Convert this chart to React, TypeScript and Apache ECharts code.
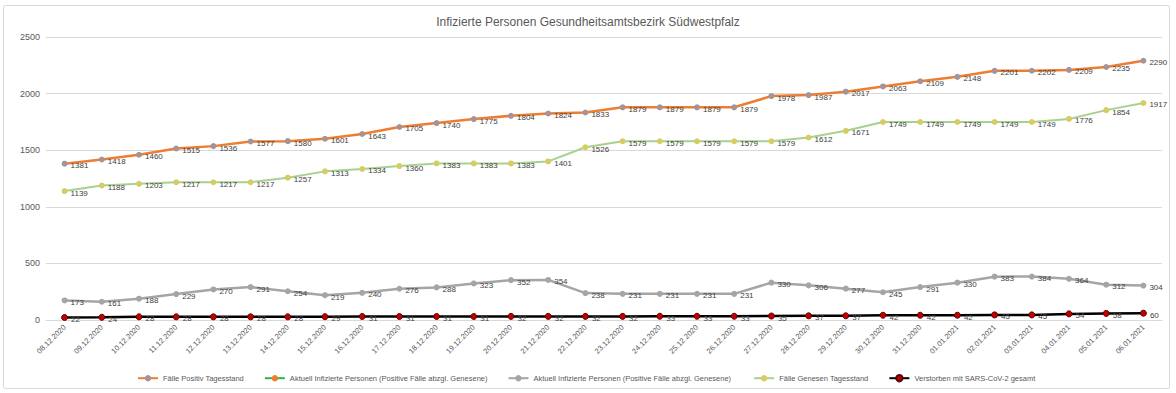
import React, { useEffect, useRef } from "react";
import * as echarts from "echarts";

const dates = [
  "08.12.2020", "09.12.2020", "10.12.2020", "11.12.2020", "12.12.2020", "13.12.2020",
  "14.12.2020", "15.12.2020", "16.12.2020", "17.12.2020", "18.12.2020", "19.12.2020",
  "20.12.2020", "21.12.2020", "22.12.2020", "23.12.2020", "24.12.2020", "25.12.2020",
  "26.12.2020", "27.12.2020", "28.12.2020", "29.12.2020", "30.12.2020", "31.12.2020",
  "01.01.2021", "02.01.2021", "03.01.2021", "04.01.2021", "05.01.2021", "06.01.2021",
];

const positiv = [
  1381, 1418, 1460, 1515, 1536, 1577, 1580, 1601, 1643, 1705, 1740, 1775, 1804, 1824, 1833,
  1879, 1879, 1879, 1879, 1978, 1987, 2017, 2063, 2109, 2148, 2201, 2202, 2209, 2235, 2290,
];

const aktuellGreen: (number | null)[] = [];

const aktuell = [
  173, 161, 188, 229, 270, 291, 254, 219, 240, 276, 288, 323, 352, 354, 238,
  231, 231, 231, 231, 330, 306, 277, 245, 291, 330, 383, 384, 364, 312, 304,
];

const genesen = [
  1139, 1188, 1203, 1217, 1217, 1217, 1257, 1313, 1334, 1360, 1383, 1383, 1383, 1401, 1526,
  1579, 1579, 1579, 1579, 1579, 1612, 1671, 1749, 1749, 1749, 1749, 1749, 1776, 1854, 1917,
];

const verstorben = [
  22, 24, 28, 28, 28, 28, 28, 29, 31, 31, 31, 31, 32, 32, 32,
  32, 33, 33, 33, 35, 37, 37, 42, 42, 42, 45, 45, 54, 58, 60,
];

const FONT = "'Liberation Sans', 'Noto Sans', sans-serif";

export default function App() {
  const ref = useRef<HTMLDivElement>(null);
  useEffect(() => {
    document.body.style.margin = "0";
    const chart = echarts.init(ref.current!, null, { renderer: "svg" });
    const label = {
      show: true,
      position: "right" as const,
      distance: 3,
      offset: [0, 2],
      fontSize: 8,
      color: "#404040",
      fontFamily: FONT,
    };
    const mk = (name: string, data: any[], lineColor: string, markerColor: string, width: number, border?: string) => ({
      name,
      type: "line",
      data,
      symbol: "circle",
      symbolSize: 6,
      lineStyle: { color: lineColor, width },
      itemStyle: { color: markerColor, borderColor: border || markerColor, borderWidth: border ? 1 : 0 },
      label,
    });
    chart.setOption({
      animation: false,
      backgroundColor: "#ffffff",
      textStyle: { fontFamily: FONT },
      title: {
        text: "Infizierte Personen Gesundheitsamtsbezirk Südwestpfalz",
        left: "center",
        top: 11,
        textStyle: { fontSize: 12, fontWeight: "normal", color: "#595959", fontFamily: FONT },
      },
      graphic: [
        {
          type: "rect",
          shape: { x: 3.5, y: 5.5, width: 1166, height: 383, r: 2 },
          style: { fill: "none", stroke: "#d9d9d9", lineWidth: 1 },
          silent: true,
        },
      ],
      legend: {
        left: 132,
        top: 369,
        itemGap: 20,
        itemWidth: 20,
        itemHeight: 8,
        textStyle: { fontSize: 7.5, color: "#595959", fontFamily: FONT },
        data: [
          "Fälle Positiv Tagesstand",
          "Aktuell Infizierte Personen (Positive Fälle abzgl. Genesene)",
          "Aktuell Infizierte Personen (Positive Fälle abzgl. Genesene) ",
          "Fälle Genesen Tagesstand",
          "Verstorben mit SARS-CoV-2 gesamt",
        ],
      },
      grid: { left: 46, right: 14, top: 37, bottom: 73, containLabel: false },
      xAxis: {
        type: "category",
        data: dates,
        boundaryGap: true,
        axisTick: { show: false },
        axisLine: { lineStyle: { color: "#d9d9d9" } },
        axisLabel: { rotate: 45, fontSize: 7.5, color: "#595959", margin: 6, interval: 0, fontFamily: FONT },
      },
      yAxis: {
        type: "value",
        min: 0,
        max: 2500,
        interval: 500,
        axisLabel: { fontSize: 9, color: "#595959", margin: 6, fontFamily: FONT, formatter: (v: number) => String(v) },
        splitLine: { lineStyle: { color: "#d9d9d9" } },
        axisLine: { show: false },
        axisTick: { show: false },
      },
      series: [
        mk("Fälle Positiv Tagesstand", positiv, "#ED7D31", "#A5939A", 2.5),
        mk("Aktuell Infizierte Personen (Positive Fälle abzgl. Genesene)", aktuellGreen, "#2EB34A", "#ED7D31", 2.5),
        mk("Aktuell Infizierte Personen (Positive Fälle abzgl. Genesene) ", aktuell, "#A5A5A5", "#A5A5A5", 2.5),
        mk("Fälle Genesen Tagesstand", genesen, "#A9D18E", "#D6CC63", 2),
        mk("Verstorben mit SARS-CoV-2 gesamt", verstorben, "#000000", "#C00000", 2.5, "#5a0000"),
      ],
    });
    return () => chart.dispose();
  }, []);
  return <div ref={ref} style={{ width: 1176, height: 393 }} />;
}
